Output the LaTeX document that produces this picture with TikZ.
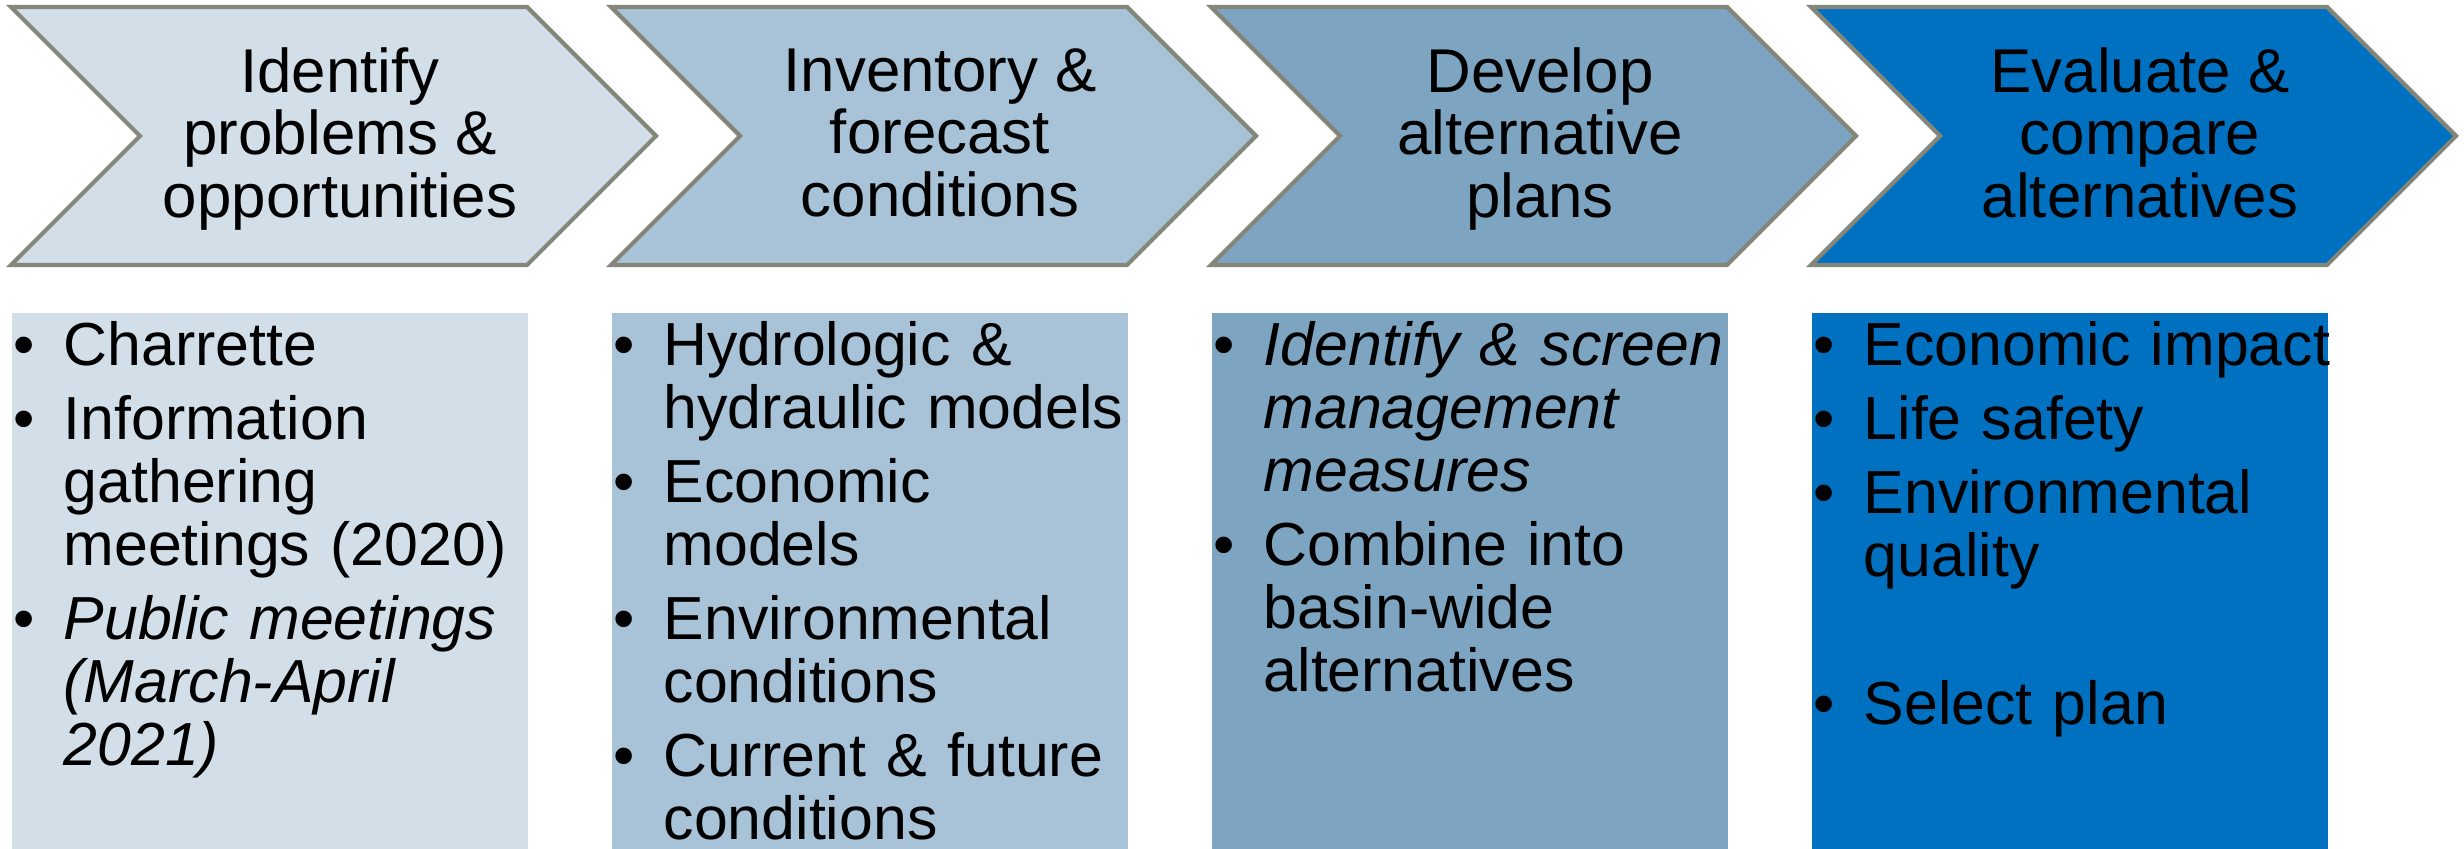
\documentclass[tikz,border=0pt]{standalone}
\usepackage{fontspec}
\setmainfont{Liberation Sans}
\usetikzlibrary{positioning}

\definecolor{paleblue}{RGB}{211,223,232}
\definecolor{lightblue}{RGB}{168,195,215}
\definecolor{midblue}{RGB}{125,165,193}
\definecolor{deepblue}{RGB}{0,112,192}
\definecolor{rimgray}{RGB}{133,134,122}

\newcommand{\bigtext}{\fontsize{17.6pt}{17.9pt}\selectfont}
\newcommand{\listtext}{\fontsize{17.3pt}{17.9pt}\selectfont}
\newcommand{\bul}[1]{\hangindent=0.5cm\hangafter=1\noindent\makebox[0.5cm][l]{\strut\textbullet}#1\par}

\begin{document}
\begin{tikzpicture}[
    chevron/.style={draw=rimgray, line width=1.2pt},
    title/.style={font=\bigtext, align=center, inner sep=0pt,
        execute at begin node={\bigtext\strut}, execute at end node=\strut},
    panel/.style={anchor=north west, minimum width=5.16cm, minimum height=5.36cm,
        inner sep=0pt, outer sep=0pt},
    points/.style={anchor=north west, font=\listtext, text width=6cm, align=left, inner sep=0pt,
        execute at begin node={\listtext\lineskiplimit=-\maxdimen\setlength{\parskip}{0.11cm}}}
]
\useasboundingbox (0,0) rectangle (24.64,8.49);

% steps
\draw[chevron, fill=paleblue] (0.11,8.42) -- ++(5.16,0) -- ++(1.29,-1.29) -- ++(-1.29,-1.29) -- ++(-5.16,0) -- ++(1.29,1.29) -- cycle;
\draw[chevron, fill=lightblue] (6.11,8.42) -- ++(5.16,0) -- ++(1.29,-1.29) -- ++(-1.29,-1.29) -- ++(-5.16,0) -- ++(1.29,1.29) -- cycle;
\draw[chevron, fill=midblue] (12.11,8.42) -- ++(5.16,0) -- ++(1.29,-1.29) -- ++(-1.29,-1.29) -- ++(-5.16,0) -- ++(1.29,1.29) -- cycle;
\draw[chevron, fill=deepblue] (18.11,8.42) -- ++(5.16,0) -- ++(1.29,-1.29) -- ++(-1.29,-1.29) -- ++(-5.16,0) -- ++(1.29,1.29) -- cycle;

\node[title] (step1) at (3.40,7.07) {Identify\\problems \&\\opportunities};
\node[title] (step2) at (9.40,7.07) {Inventory \&\\forecast\\conditions};
\node[title] (step3) at (15.40,7.07) {Develop\\alternative\\plans};
\node[title] (step4) at (21.40,7.07) {Evaluate \&\\compare\\alternatives};

% details
\node[panel, fill=paleblue] (panel1) at (0.12,5.36) {};
\node[panel, fill=lightblue] (panel2) at (6.12,5.36) {};
\node[panel, fill=midblue] (panel3) at (12.12,5.36) {};
\node[panel, fill=deepblue] (panel4) at (18.12,5.36) {};

\node[points] (list1) at ([xshift=0.01cm, yshift=-0.08cm]panel1.north west) {%
    \bul{Charrette}
    \bul{Information\newline gathering\newline meetings (2020)}
    \bul{\textit{Public meetings\newline (March-April\newline 2021)}}};
\node[points] (list2) at ([xshift=0.01cm, yshift=-0.08cm]panel2.north west) {%
    \bul{Hydrologic \&\newline hydraulic models}
    \bul{Economic\newline models}
    \bul{Environmental\newline conditions}
    \bul{Current \& future\newline conditions}};
\node[points] (list3) at ([xshift=0.01cm, yshift=-0.08cm]panel3.north west) {%
    \bul{\textit{Identify \& screen\newline management\newline measures}}
    \bul{Combine into\newline basin-wide\newline alternatives}};
\node[points] (list4) at ([xshift=0.01cm, yshift=-0.08cm]panel4.north west) {%
    \bul{Economic impact}
    \bul{Life safety}
    \bul{Environmental\newline quality}
    \mbox{}\par
    \bul{Select plan}};

\end{tikzpicture}
\end{document}
